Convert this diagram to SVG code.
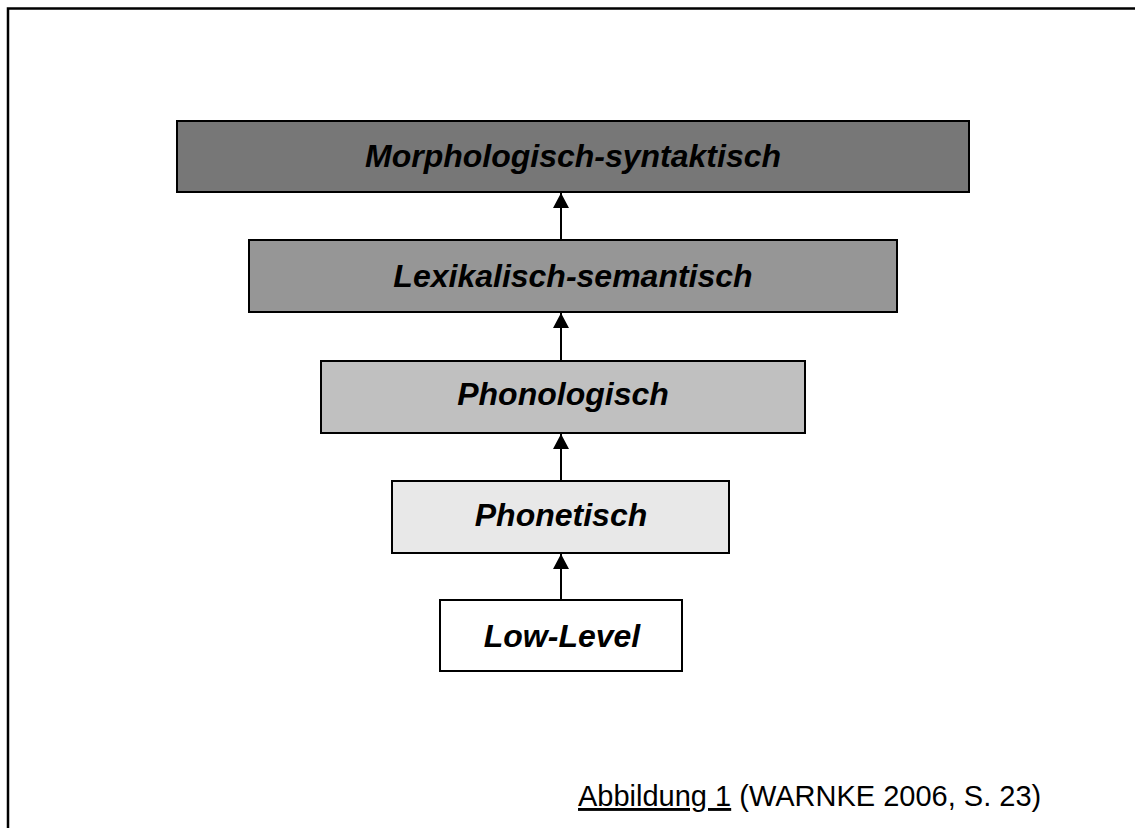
<svg xmlns="http://www.w3.org/2000/svg" width="1135" height="828" viewBox="0 0 1135 828">
<style>
.box{stroke:#000;stroke-width:2}
.lbl{font-family:"Liberation Sans",Arial,sans-serif;font-weight:bold;font-style:italic;font-size:32px;text-anchor:middle;fill:#000}
.cap{font-family:"Liberation Sans",Arial,sans-serif;font-size:29px;fill:#000}
.conn{stroke:#000;stroke-width:2;fill:none}
</style>
<defs>
<marker id="ah" viewBox="0 0 16 15" refX="8" refY="0" markerWidth="16" markerHeight="15" markerUnits="userSpaceOnUse" orient="0">
<path d="M8,0 L16,15 L0,15 Z" fill="#000"/>
</marker>
</defs>
<rect width="1135" height="828" fill="#fff"/>
<g id="frame">
<path d="M8,828 V8.5 H1135" fill="none" stroke="#000" stroke-width="2.5"/>
</g>
<g id="connectors">
<line class="conn" x1="561" y1="240" x2="561" y2="193" marker-end="url(#ah)"/>
<line class="conn" x1="561" y1="361" x2="561" y2="313" marker-end="url(#ah)"/>
<line class="conn" x1="561" y1="481" x2="561" y2="434" marker-end="url(#ah)"/>
<line class="conn" x1="561" y1="600" x2="561" y2="554" marker-end="url(#ah)"/>
</g>
<g id="morphologisch">
<rect class="box" x="177" y="121" width="792" height="71" fill="#777777"/>
<text class="lbl" x="573" y="167">Morphologisch-syntaktisch</text>
</g>
<g id="lexikalisch">
<rect class="box" x="249" y="240" width="648" height="72" fill="#969696"/>
<text class="lbl" x="573" y="287">Lexikalisch-semantisch</text>
</g>
<g id="phonologisch">
<rect class="box" x="321" y="361" width="484" height="72" fill="#c0c0c0"/>
<text class="lbl" x="563" y="405">Phonologisch</text>
</g>
<g id="phonetisch">
<rect class="box" x="392" y="481" width="337" height="72" fill="#e8e8e8"/>
<text class="lbl" x="561" y="526">Phonetisch</text>
</g>
<g id="lowlevel">
<rect class="box" x="440" y="600" width="242" height="71" fill="#ffffff"/>
<text class="lbl" x="562" y="647">Low-Level</text>
</g>
<g id="caption">
<text class="cap" x="578" y="806"><tspan text-decoration="underline">Abbildung 1</tspan> (WARNKE 2006, S. 23)</text>
</g>
</svg>
